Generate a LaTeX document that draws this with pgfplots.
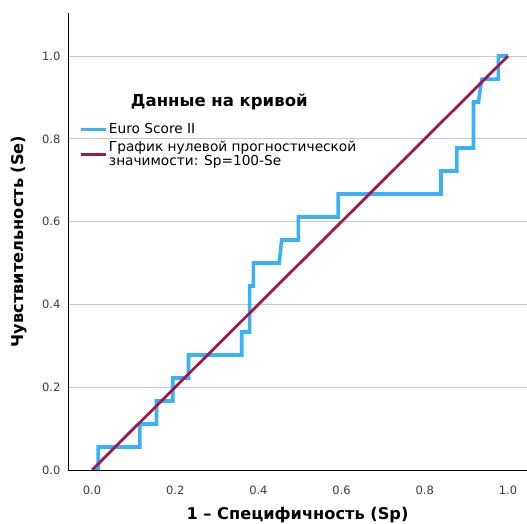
\documentclass[border=0pt]{standalone}
\usepackage{fontspec}
\setmainfont{DejaVu Sans}
\usepackage{pgfplots}
\pgfplotsset{compat=1.18}
\definecolor{rocblue}{RGB}{56,178,250}
\definecolor{rocred}{RGB}{158,26,78}
\definecolor{gridgray}{RGB}{200,200,200}
\definecolor{ticktext}{RGB}{60,60,60}
\begin{document}
\begin{tikzpicture}
\useasboundingbox (-68pt,-54pt) rectangle (459pt,470pt);
\begin{axis}[
  at={(0pt,0pt)}, anchor=south west,
  scale only axis,
  width=459pt, height=457pt,
  xmin=-0.0577, xmax=1.0457,
  ymin=0, ymax=1.104,
  axis x line*=bottom, axis y line*=left,
  axis line style={black, line width=0.8pt, -},
  xtick={0,0.2,0.4,0.6,0.8,1.0},
  ytick={0,0.2,0.4,0.6,0.8,1.0},
  major tick length=0pt,
  ymajorgrids, grid style={gridgray, line width=0.9pt},
  /pgf/number format/assume math mode=true,
  xticklabel style={/pgf/number format/.cd, fixed, fixed zerofill, precision=1},
  yticklabel style={/pgf/number format/.cd, fixed, fixed zerofill, precision=1},
  tick label style={font=\fontsize{11.5}{13}\selectfont, text=ticktext},
  xticklabel shift=12pt, yticklabel shift=4pt,
  xlabel={\textbf{1 – Специфичность (Sp)}},
  ylabel={\textbf{Чувствительность (Se)}},
  label style={font=\fontsize{16.2}{18}\selectfont},
  xlabel style={yshift=-6pt},
  ylabel style={yshift=8pt},
  legend style={at={(axis cs:-0.032,0.841)}, anchor=north west, draw=none, fill=none,
    font=\fontsize{13.7}{14}\selectfont, row sep=3pt, inner sep=0pt,
    nodes={align=left, inner sep=1.5pt}},
  legend cell align=left,
  legend image code/.code={\draw[#1] (0pt,0pt) -- (25pt,0pt);},
]
\addplot[rocblue, line width=3.6pt, line join=miter, line cap=butt] coordinates {
(0,0) (0.015,0) (0.015,0.0556) (0.115,0.0556) (0.115,0.1111) (0.155,0.1111)
(0.155,0.1667) (0.194,0.1667) (0.194,0.2222) (0.232,0.2222) (0.232,0.2778)
(0.360,0.2778) (0.360,0.3333) (0.379,0.3333) (0.379,0.4444) (0.388,0.4444)
(0.388,0.5) (0.450,0.5) (0.456,0.5556) (0.496,0.5556) (0.496,0.6111)
(0.592,0.6111) (0.592,0.6667) (0.839,0.6667) (0.839,0.7222) (0.877,0.7222)
(0.877,0.7778) (0.917,0.7778) (0.917,0.8889) (0.929,0.8889) (0.937,0.9444)
(0.977,0.9444) (0.977,1.0) (1.0,1.0)
};
\addlegendentry{Euro Score II}
\addplot[rocred, line width=2.8pt] coordinates {(0,0) (1,1)};
\addlegendentry{График нулевой прогностической\\значимости: Sp=100-Se}
\node[font=\fontsize{16.5}{18}\selectfont\bfseries] at (axis cs:0.306,0.889) {Данные на кривой};
\end{axis}
\end{tikzpicture}
\end{document}
